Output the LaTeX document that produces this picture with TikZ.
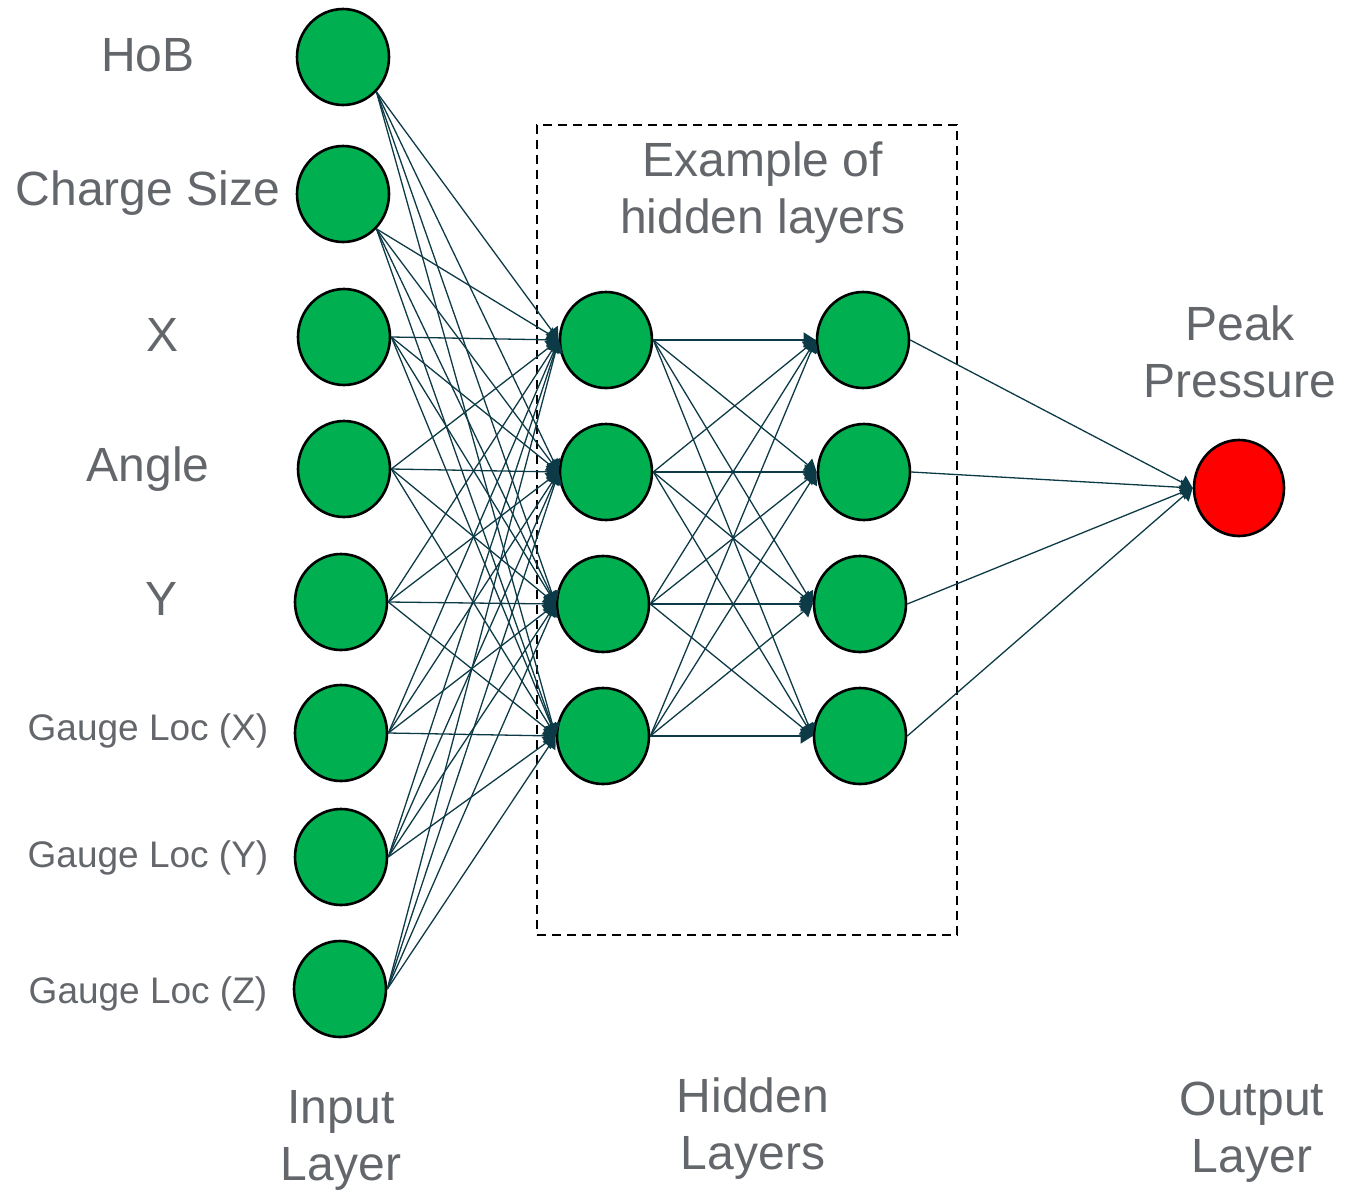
\documentclass[tikz,border=0pt]{standalone}
\usepackage{fontspec}
\setmainfont{Liberation Sans}
\usetikzlibrary{arrows.meta,shapes.geometric}
\definecolor{nodegreen}{HTML}{00B050}
\definecolor{nodered}{HTML}{FF0000}
\definecolor{linkcol}{HTML}{0D3A47}
\definecolor{txtgray}{HTML}{63666A}
\begin{document}
\begin{tikzpicture}[x=1pt,y=-1pt,
  neuron/.style={ellipse,draw=black,line width=2.6pt,fill=nodegreen,minimum width=92pt,minimum height=96pt,inner sep=0pt},
  outneuron/.style={neuron,fill=nodered},
  link/.style={draw=linkcol,line width=1.3pt,-{Triangle[length=12pt,width=15pt]}},
  lbl/.style={text=txtgray,font=\fontsize{48}{57}\selectfont,align=center,inner sep=0pt},
  smalllbl/.style={text=txtgray,font=\fontsize{37}{44}\selectfont,align=center,inner sep=0pt},
  boxline/.style={draw=black,line width=2.4pt,dash pattern=on 9pt off 6pt}]
\useasboundingbox (0,0) rectangle (1363,1189);
% dashed frame
\node[boxline,minimum width=420pt,minimum height=810pt,inner sep=0pt] (frame) at (747,530) {};
% input nodes
\node[neuron] (i1) at (343,57) {};
\node[neuron] (i2) at (343,194) {};
\node[neuron] (i3) at (344,337) {};
\node[neuron] (i4) at (344,469) {};
\node[neuron] (i5) at (341,602) {};
\node[neuron] (i6) at (341,733) {};
\node[neuron] (i7) at (341,857) {};
\node[neuron] (i8) at (340,989) {};
% hidden layer 1
\node[neuron] (a1) at (606,340) {};
\node[neuron] (a2) at (606,472) {};
\node[neuron] (a3) at (603,604) {};
\node[neuron] (a4) at (603,736) {};
% hidden layer 2
\node[neuron] (b1) at (863,340) {};
\node[neuron] (b2) at (864,472) {};
\node[neuron] (b3) at (860,604) {};
\node[neuron] (b4) at (860,736) {};
% output
\node[outneuron,minimum width=90pt] (o1) at (1239,488) {};
% connectors
\foreach \t in {a1,a2,a3,a4}{
  \draw[link] (i1.south east) -- (\t.west);
  \draw[link] (i2.south east) -- (\t.west);
  \foreach \s in {i3,i4,i5,i6,i7,i8}{
    \draw[link] (\s.east) -- (\t.west);
  }
}
\foreach \s in {a1,a2,a3,a4}{
  \foreach \t in {b1,b2,b3,b4}{
    \draw[link] (\s.east) -- (\t.west);
  }
}
\foreach \s in {b1,b2,b3,b4}{
  \draw[link] (\s.east) -- (o1.west);
}
% labels
\node[lbl] (tHoB) at (148,55) {HoB};
\node[lbl] (tCS) at (148,193) {Charge Size};
\node[lbl] (tX) at (163,335) {X};
\node[lbl] (tAng) at (148,469) {Angle};
\node[lbl] (tY) at (162,599) {Y};
\node[smalllbl] (tGX) at (148,731) {Gauge Loc (X)};
\node[smalllbl] (tGY) at (148,858) {Gauge Loc (Y)};
\node[smalllbl] (tGZ) at (148,994) {Gauge Loc (Z)};
\node[lbl] (tEx) at (763,193) {Example of\\hidden layers};
\node[lbl] (tPP) at (1240,352) {Peak\\Pressure};
\node[lbl] (tIn) at (341,1140) {Input\\Layer};
\node[lbl] (tHid) at (753,1129) {Hidden\\Layers};
\node[lbl] (tOut) at (1252,1132) {Output\\Layer};
\end{tikzpicture}
\end{document}
